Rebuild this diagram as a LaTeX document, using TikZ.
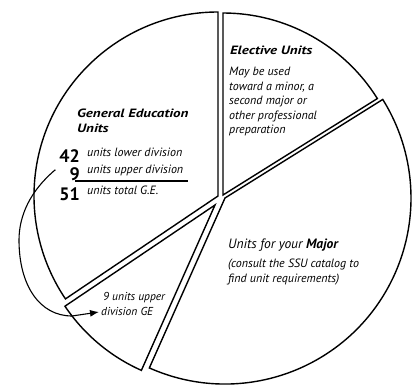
\documentclass[tikz,border=0pt]{standalone}
\usepackage{fontspec}
\setmainfont{PT Sans}
\newfontfamily\widefont{PT Sans}[FakeStretch=1.25]
\usetikzlibrary{arrows.meta}

\begin{document}
\begin{tikzpicture}[x=1pt,y=1pt,
  slice/.style={line width=1.4pt,line join=miter},
  title/.style={inner sep=0pt,anchor=base west,align=left,font=\widefont\fontsize{12}{16}\selectfont\bfseries\itshape},
  body/.style={inner sep=0pt,anchor=base west,align=left,font=\fontsize{#1}{14.6}\selectfont\itshape},
  body/.default=12,
  units/.style={inner sep=0pt,anchor=base east,font=\fontsize{18}{18}\selectfont\bfseries}]
\useasboundingbox (0,0) rectangle (414,386);

% apex of each slice
\coordinate (ge) at (218,190);
\coordinate (upper) at (215,181);
\coordinate (major) at (225,188);
\coordinate (elective) at (223,191);

\begin{scope}
\draw[slice] (ge) -- ++(90:184) arc[start angle=90,end angle=214,radius=184] -- cycle;
\draw[slice] (upper) -- ++(214:181) arc[start angle=214,end angle=246,radius=181] -- cycle;
\draw[slice] (major) -- ++(-114:186) arc[start angle=-114,end angle=32,radius=186] -- cycle;
\draw[slice] (elective) -- ++(32:182) arc[start angle=32,end angle=90,radius=182] -- cycle;
\end{scope}

% general education (base = last line)
\node[title] (getitle) at (77,253) {General Education\\Units};
\node[units] (n42) at (80,224) {42};
\node[body] (lower) at (87,230) {units lower division};
\node[units] (n9) at (80,206) {9};
\node[body] (upperdiv) at (87,212.5) {units upper division};
\node[units] (n51) at (80,186) {51};
\node[body] (total) at (87,192) {units total G.E.};
\draw[line width=1.1pt] (75,205) -- (188,205);

% elective
\node[title] (eltitle) at (230,331) {Elective Units};
\node[body] (eltext) at (229,252) {May be used\\toward a minor, a\\second major or\\other professional\\preparation};

% major
\node[body=13.5] (majtitle) at (228,138) {Units for your \textbf{Major}};
\node[body] (majtext) at (228,104) {(consult the SSU catalog to\\find unit requirements)};

% upper division slice
\node[body=11.5] (uplabel) at (101,71) {\hspace{2pt}9 units upper\\division GE};
\coordinate (from) at ([xshift=-14pt,yshift=4pt]n9.west);
\coordinate (to) at ([xshift=-2pt,yshift=3pt]uplabel.base west);
\draw[line width=1.1pt,-{Latex[length=9pt,width=7pt]}] (from) .. controls (30,195) and (19,170) .. (19,146)
  .. controls (19,100) and (40,70) .. (72,70) -- (to);

\end{tikzpicture}
\end{document}
